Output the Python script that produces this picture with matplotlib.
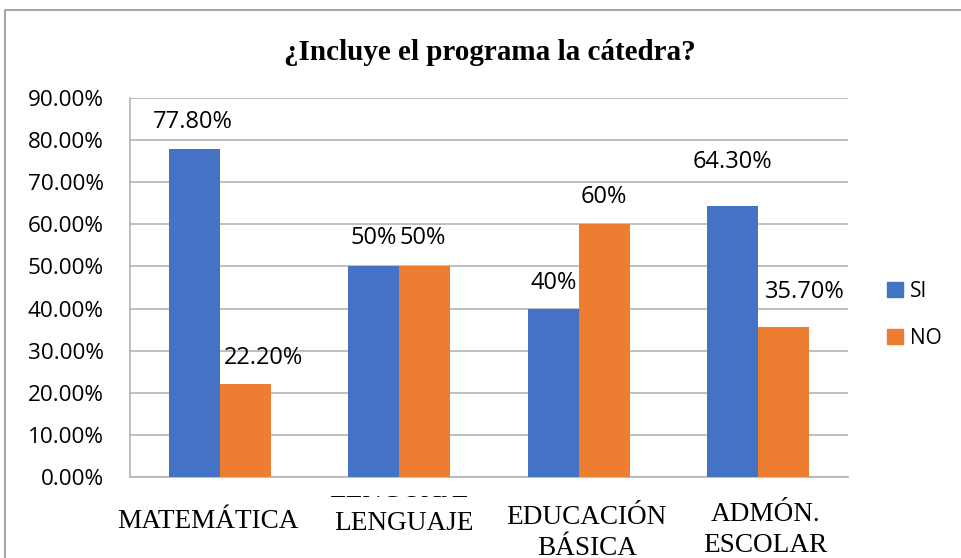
import matplotlib
matplotlib.use("Agg")
import matplotlib.pyplot as plt
import numpy as np
from matplotlib.transforms import blended_transform_factory, Bbox
from matplotlib.lines import Line2D
from matplotlib.patches import Patch

# ---- data ----
categories = ["MATEMÁTICA", "LENGUAJE", "EDUCACIÓN\nBÁSICA", "ADMÓN.\nESCOLAR"]
series_names = ["SI", "NO"]
si_values = [77.8, 50.0, 40.0, 64.3]
no_values = [22.2, 50.0, 60.0, 35.7]
si_labels = ["77.80%", "50%", "40%", "64.30%"]
no_labels = ["22.20%", "50%", "60%", "35.70%"]
yticks = [0, 10, 20, 30, 40, 50, 60, 70, 80, 90]
title = "¿Incluye el programa la cátedra?"

# ---- style ----
W, H = 961, 558
DPI = 100
BLUE = "#4472C4"
ORANGE = "#ED7D31"
GRID = "#B4B4B4"
# label offsets in pixels (dx, dy up)
si_off = [(-1, 27), (0, 28), (0, 26), (0, 44)]
no_off = [(18.5, 26), (-2, 28), (0, 27), (21.5, 35)]
# x label centers (dx pixels from category centre, y pixels from top)
xlab_dx = [-12, 5, 8, 7]
xlab_y = [522, 524, 533, 530]

fig = plt.figure(figsize=(W / DPI, H / DPI), dpi=DPI)
ax = fig.add_axes([130 / W, 1 - 477 / H, 718 / W, 379 / H])

x = np.arange(len(categories))
bw = 0.284
b1 = ax.bar(x - bw / 2, si_values, bw, color=BLUE, label=series_names[0], zorder=3)
b2 = ax.bar(x + bw / 2, no_values, bw, color=ORANGE, label=series_names[1], zorder=3)

ax.set_xlim(-0.5, len(categories) - 0.5)
ax.set_ylim(0, 90)
ax.set_yticks(yticks)
ax.set_yticklabels([f"{v:.2f}%" for v in yticks], fontfamily="Open Sans", fontsize=16.2)
ax.tick_params(axis="y", length=0, pad=19)
ax.set_xticks([])
ax.yaxis.grid(True, color=GRID, linewidth=1.2, zorder=0)
for s in ["top", "right"]:
    ax.spines[s].set_visible(False)
ax.spines["left"].set_color(GRID)
ax.spines["bottom"].set_color(GRID)
ax.spines["left"].set_linewidth(1.2)
ax.spines["bottom"].set_linewidth(1.2)

px2pt = 72 / DPI
for bars, labels, offs in [(b1, si_labels, si_off), (b2, no_labels, no_off)]:
    for rect, lab, (dx, dy) in zip(bars, labels, offs):
        ax.annotate(lab, (rect.get_x() + rect.get_width() / 2, rect.get_height()),
                    xytext=(dx * px2pt, dy * px2pt), textcoords="offset points",
                    ha="center", va="center", fontfamily="Open Sans", fontsize=17,
                    color="#000000", zorder=5)

# category labels
tr = blended_transform_factory(ax.transData, fig.transFigure)
unit_px = 718 / len(categories)
for xi, lab, yy, dx in zip(x, categories, xlab_y, xlab_dx):
    ax.text(xi + dx / unit_px, 1 - yy / H, lab, transform=tr, ha="center", va="center",
            fontfamily="Liberation Serif", fontsize=19.6, linespacing=1.3, clip_on=False)

# clipped hidden line above LENGUAJE
t = ax.text(x[1] + xlab_dx[1] / unit_px - 5 / unit_px, 1 - 490.5 / H, categories[1],
            transform=tr, ha="center", va="center",
            fontfamily="Liberation Serif", fontsize=19.6)
t.set_clip_box(Bbox.from_extents(0, 0, W, H - 496))
t.set_clip_on(True)

# title
fig.text(490 / W, 1 - 52 / H, title, ha="center", va="center",
         fontfamily="Liberation Serif", fontweight="bold", fontsize=21)

# legend
leg = ax.legend(handles=[Patch(color=BLUE, label=series_names[0]),
                         Patch(color=ORANGE, label=series_names[1])],
                loc="center left", bbox_to_anchor=(887 / W, 1 - 315 / H),
                bbox_transform=fig.transFigure, frameon=False,
                prop={"family": "Open Sans", "size": 15},
                handlelength=0.75, handleheight=0.75, handletextpad=0.35,
                labelspacing=1.25, borderpad=0, borderaxespad=0)

# figure border (left and top)
fig.add_artist(Line2D([5 / W, 5 / W, 1.0], [0.0, 1 - 10 / H, 1 - 10 / H],
                      transform=fig.transFigure, color="#A6A6A6", linewidth=1.5))

fig.savefig("out.png", dpi=DPI)
